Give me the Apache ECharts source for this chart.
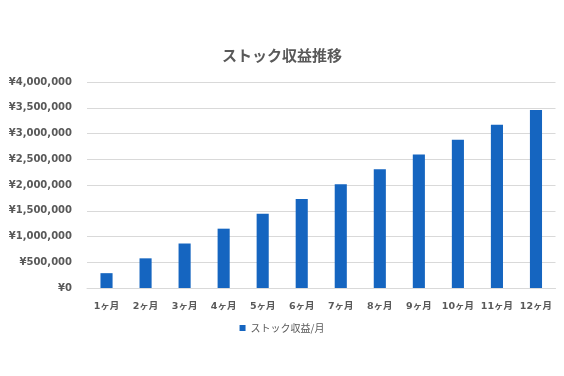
<!DOCTYPE html>
<html><head><meta charset="utf-8">
<script src="https://cdn.jsdelivr.net/npm/echarts@6/dist/echarts.min.js"></script>
<style>html,body{margin:0;padding:0;background:#fff}#c{width:564px;height:376px}</style>
</head><body><div id="c"></div>
<script>
const categories = ['1ヶ月','2ヶ月','3ヶ月','4ヶ月','5ヶ月','6ヶ月','7ヶ月','8ヶ月','9ヶ月','10ヶ月','11ヶ月','12ヶ月'];
const values = [288000, 576000, 864000, 1152000, 1440000, 1728000, 2016000, 2304000, 2592000, 2880000, 3168000, 3456000];
const seriesName = 'ストック収益/月';
const titleText = 'ストック収益推移';

const fontFam = '"Noto Sans CJK JP", "Noto Sans", sans-serif';
const numFam = '"DejaVu Sans", "Noto Sans CJK JP", sans-serif';
const chart = echarts.init(document.getElementById('c'));
chart.setOption({
  animation: false,
  title: {
    text: titleText, left: 'center', top: 43,
    textStyle: { fontFamily: fontFam, fontSize: 15, fontWeight: 'bold', color: '#595959' }
  },
  legend: {
    bottom: 38, left: 'center', itemWidth: 6, itemHeight: 6, itemGap: 4,
    icon: 'rect',
    textStyle: { fontFamily: fontFam, fontSize: 10, color: '#595959' },
    data: [seriesName]
  },
  grid: { left: 87, right: 8.5, top: 82, bottom: 88 },
  xAxis: {
    type: 'category', data: categories,
    axisLine: { lineStyle: { color: '#d9d9d9' } },
    axisTick: { show: false },
    axisLabel: { interval: 0, fontFamily: numFam, fontSize: 9.5, fontWeight: 'bold', color: '#595959', margin: 14 }
  },
  yAxis: {
    type: 'value', min: 0, max: 4000000, interval: 500000,
    axisLine: { show: false }, axisTick: { show: false },
    splitLine: { lineStyle: { color: '#d9d9d9', width: 1 } },
    axisLabel: {
      fontFamily: numFam, fontSize: 10, fontWeight: 'bold', color: '#595959', margin: 15,
      formatter: v => '¥' + v.toLocaleString('en-US')
    }
  },
  series: [{
    name: seriesName, type: 'bar', data: values, barWidth: '31%',
    itemStyle: { color: '#1565C0' }
  }]
});
</script></body></html>
